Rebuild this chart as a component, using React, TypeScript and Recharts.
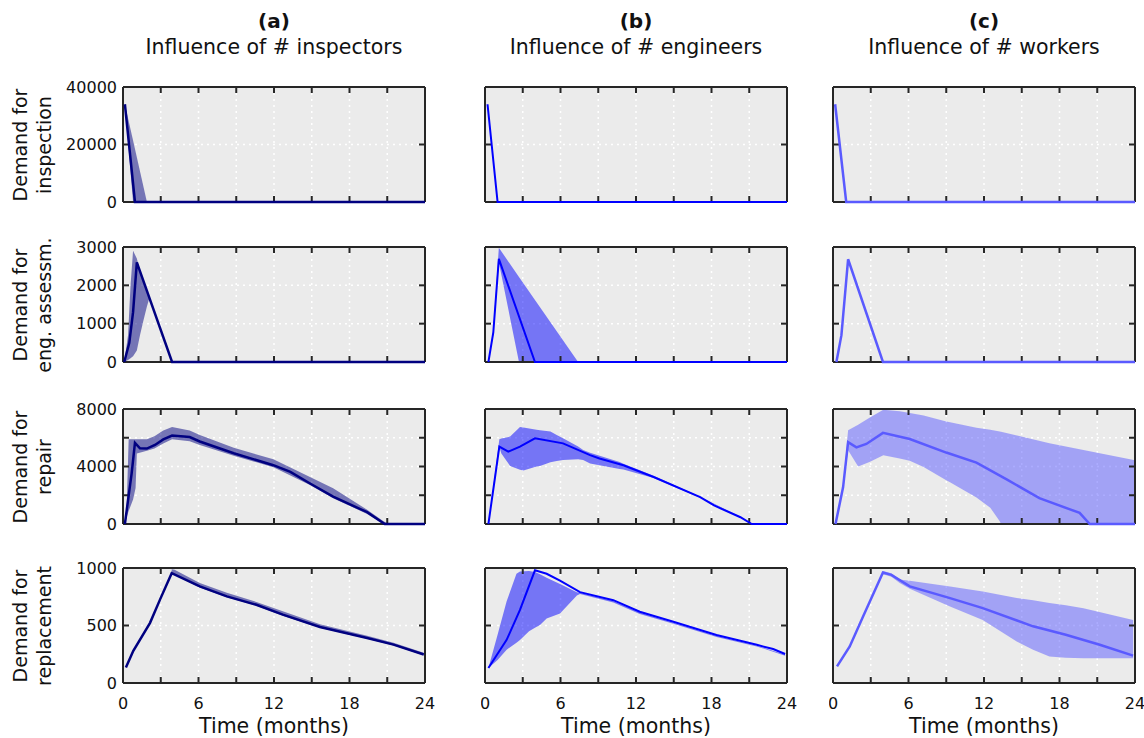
import { Area, CartesianGrid, ComposedChart, Line, XAxis, YAxis } from "recharts";

// time axis (months)
const monthTicks = [0, 3, 6, 9, 12, 15, 18, 21, 24];
const monthLabels = [0, 6, 12, 18, 24];

// y ticks per row
const inspTicks = [0, 20000, 40000];
const engTicks = [0, 1000, 2000, 3000];
const repairTicks = [0, 2000, 4000, 6000, 8000];
const repairLabels = [0, 4000, 8000];
const replTicks = [0, 500, 1000];

const colTitles = ["(a)", "(b)", "(c)"];
const colSubtitles = ["Influence of # inspectors", "Influence of # engineers", "Influence of # workers"];
const rowLabels = [
  ["Demand for", "inspection"],
  ["Demand for", "eng. assessm."],
  ["Demand for", "repair"],
  ["Demand for", "replacement"],
];

// ---- row 1: inspection ----
const inspA_t = [0.15, 0.95, 24];
const inspA_v = [34000, 0, 0];
const inspA_bt = [0.15, 0.8, 1.9];
const inspA_lo = [34000, 0, 0];
const inspA_hi = [34000, 21400, 0];

const inspB_t = [0.2, 1.0, 24];
const inspB_v = [34000, 0, 0];

const inspC_t = [0.17, 1.05, 24];
const inspC_v = [34000, 0, 0];

// ---- row 2: engineering assessment ----
const engA_t = [0.1, 0.5, 0.8, 1.1, 3.9, 24];
const engA_v = [0, 500, 1300, 2600, 0, 0];
const engA_bt = [0.1, 0.4, 0.6, 0.8, 1.1, 1.35, 1.6, 1.9, 2.1, 3.9];
const engA_lo = [0, 50, 100, 150, 300, 700, 1050, 1450, 1670, 0];
const engA_hi = [0, 700, 2000, 2900, 2700, 2370, 2130, 1850, 1670, 0];

const engB_t = [0.27, 0.66, 1.1, 3.97, 24];
const engB_v = [0, 770, 2690, 0, 0];
const engB_bt = [0.27, 0.66, 1.1, 2.7, 7.4];
const engB_lo = [0, 700, 2600, 0, 0];
const engB_hi = [0, 850, 2980, 2220, 0];

const engC_t = [0.27, 0.67, 1.2, 3.97, 24];
const engC_v = [0, 700, 2680, 0, 0];

// ---- row 3: repair ----
const repA_t = [0.15, 0.4, 0.69, 0.95, 1.35, 1.9, 2.54, 3.2, 3.9, 5.3, 6.1, 8.8, 11.95, 13.3, 14.9, 16.7, 19.4, 20.8, 24];
const repA_v = [0, 1640, 3540, 5650, 5270, 5250, 5500, 5880, 6150, 6050, 5740, 4920, 4090, 3620, 2800, 1900, 820, 0, 0];
const repA_bt = [0.15, 0.3, 0.45, 0.8, 1.0, 1.1, 1.9, 2.5, 3.2, 3.9, 5.3, 6.1, 8.8, 11.95, 14.9, 16.7, 19.4, 20.7, 21.1];
const repA_lo = [0, 500, 900, 1700, 2500, 4900, 5100, 5250, 5600, 5900, 5750, 5500, 4750, 3950, 2700, 1800, 700, 0, 0];
const repA_hi = [0, 1500, 5900, 5900, 5900, 5900, 5900, 6100, 6500, 6750, 6500, 6200, 5300, 4500, 3250, 2480, 1000, 200, 0];

const repB_t = [0.27, 0.8, 1.14, 1.85, 2.78, 3.97, 6.2, 8.35, 9.1, 11, 13.4, 17.1, 18.2, 20.3, 21.2, 24];
const repB_v = [0, 3270, 5380, 5030, 5380, 5960, 5610, 4790, 4560, 4090, 3270, 1870, 1290, 470, 0, 0];
const repB_bt = [0.27, 1.14, 1.3, 2.0, 2.78, 3.05, 4.1, 4.37, 5.2, 5.7, 6.2, 7.4, 7.8, 8.35, 10.7, 11, 13.4, 17.1, 20.3, 21.2];
const repB_lo = [0, 5380, 4900, 4030, 3780, 3720, 4000, 4030, 4300, 4380, 4450, 4500, 4450, 4210, 3830, 3790, 3200, 1820, 440, 0];
const repB_hi = [0, 5900, 5950, 6080, 6740, 6720, 6550, 6520, 6430, 6200, 5960, 5400, 5140, 4950, 4320, 4200, 3350, 1900, 500, 0];

const repC_t = [0.2, 0.8, 1.2, 1.86, 2.65, 3.97, 6.1, 9.0, 11.4, 13.8, 16.4, 19.6, 20.4, 24];
const repC_v = [0, 2550, 5690, 5330, 5570, 6340, 5910, 4970, 4270, 3100, 1800, 770, 0, 0];
const repC_bt = [0.2, 0.8, 1.2, 2.0, 2.9, 4.0, 5.3, 6.1, 7.2, 9.0, 9.3, 11.4, 12.5, 13.25, 13.35, 17.2, 19.9, 24];
const repC_lo = [0, 2500, 5130, 4000, 4310, 4790, 4550, 4400, 3960, 3050, 2900, 1840, 1130, 200, 0, 0, 0, 0];
const repC_hi = [0, 2600, 6520, 6900, 7390, 7950, 7850, 7720, 7550, 7130, 7080, 6700, 6550, 6430, 6420, 5610, 5140, 4440];

// ---- row 4: replacement ----
const rplA_t = [0.23, 0.82, 2.15, 2.94, 3.87, 6.1, 8.25, 10.6, 12.7, 15.65, 19.4, 21.5, 23.9];
const rplA_v = [135, 280, 523, 725, 955, 840, 753, 680, 594, 487, 392, 334, 248];
const rplA_bt = [3.87, 4.1, 6.1, 8.25, 10.6, 12.7, 15.65, 19.4, 21.5, 23.9];
const rplA_lo = [950, 940, 830, 745, 672, 585, 480, 385, 326, 242];
const rplA_hi = [990, 985, 870, 785, 705, 625, 510, 410, 350, 262];

const rplB_t = [0.27, 1.72, 2.78, 3.97, 4.9, 5.96, 7.55, 10.2, 12.3, 14.97, 18.4, 21.6, 22.9, 23.85];
const rplB_v = [130, 375, 635, 980, 950, 890, 790, 720, 620, 533, 418, 332, 295, 252];
const rplB_bt = [0.27, 1.0, 1.72, 2.5, 2.78, 3.5, 3.97, 4.37, 4.9, 5.96, 7.3, 7.55, 10.2, 12.3, 14.97, 18.4, 21.6, 23.85];
const rplB_lo = [130, 200, 290, 350, 375, 450, 480, 505, 560, 605, 760, 775, 700, 600, 515, 400, 318, 238];
const rplB_hi = [130, 420, 710, 950, 970, 975, 965, 945, 915, 860, 790, 785, 712, 612, 525, 410, 325, 245];

const rplC_t = [0.32, 1.33, 2.39, 3.97, 4.64, 6.1, 9.3, 11.9, 15.9, 18.5, 21.2, 23.85];
const rplC_v = [145, 318, 578, 960, 940, 840, 738, 651, 493, 420, 333, 238];
const rplC_bt = [3.97, 4.64, 5.3, 6.1, 9.3, 11.9, 14.6, 15.9, 17.2, 18.5, 19.9, 23.85];
const rplC_lo = [945, 925, 870, 820, 665, 548, 360, 290, 230, 220, 215, 215];
const rplC_hi = [975, 955, 900, 890, 840, 795, 740, 720, 695, 677, 650, 547];

const lineRows = (t: number[], v: number[]) => t.map((x, i) => ({ t: x, v: v[i] }));
const bandRows = (t: number[], lo: number[], hi: number[]) => t.map((x, i) => ({ t: x, range: [lo[i], hi[i]] }));

type Cell = { line: { t: number; v: number }[]; band?: { t: number; range: number[] }[] };

const cells: Cell[][] = [
  [
    { line: lineRows(inspA_t, inspA_v), band: bandRows(inspA_bt, inspA_lo, inspA_hi) },
    { line: lineRows(inspB_t, inspB_v) },
    { line: lineRows(inspC_t, inspC_v) },
  ],
  [
    { line: lineRows(engA_t, engA_v), band: bandRows(engA_bt, engA_lo, engA_hi) },
    { line: lineRows(engB_t, engB_v), band: bandRows(engB_bt, engB_lo, engB_hi) },
    { line: lineRows(engC_t, engC_v) },
  ],
  [
    { line: lineRows(repA_t, repA_v), band: bandRows(repA_bt, repA_lo, repA_hi) },
    { line: lineRows(repB_t, repB_v), band: bandRows(repB_bt, repB_lo, repB_hi) },
    { line: lineRows(repC_t, repC_v), band: bandRows(repC_bt, repC_lo, repC_hi) },
  ],
  [
    { line: lineRows(rplA_t, rplA_v), band: bandRows(rplA_bt, rplA_lo, rplA_hi) },
    { line: lineRows(rplB_t, rplB_v), band: bandRows(rplB_bt, rplB_lo, rplB_hi) },
    { line: lineRows(rplC_t, rplC_v), band: bandRows(rplC_bt, rplC_lo, rplC_hi) },
  ],
];

const rowTicks = [inspTicks, engTicks, repairTicks, replTicks];
const rowMax = [40000, 3000, 8000, 1000];
const rowShown = [inspTicks, engTicks, repairLabels, replTicks];

const colColor = ["#000080", "#0000ff", "#5a5aff"];
const colWidth = [2.5, 2, 2.5];

// layout
const colLeft = [123, 485, 833];
const rowTop = [87, 247, 409, 568];
const plotW = 302;
const plotH = 115;
const padT = 12;
const padR = 16;
const font = "'DejaVu Sans', Verdana, sans-serif";
const frame = { stroke: "#262626", strokeWidth: 2 };
const tickStyle = { stroke: "#262626", strokeWidth: 2 };

function Panel({ row, col }: { row: number; col: number }) {
  const cell = cells[row][col];
  const leftPad = col === 0 ? 80 : 4;
  const bottomPad = row === 3 ? 40 : 14;
  const color = colColor[col];
  return (
    <div style={{ position: "absolute", left: colLeft[col] - leftPad, top: rowTop[row] - padT - 1 }}>
      <ComposedChart
        width={leftPad + plotW + padR + 1}
        height={padT + 1 + plotH + bottomPad}
        margin={{ top: padT, right: padR, bottom: 0, left: 0 }}
      >
        <CartesianGrid xAxisId="b" yAxisId="l" fill="#ebebeb" stroke="#ffffff" strokeDasharray="2 4" strokeWidth={1.5} />
        <XAxis
          xAxisId="b"
          type="number"
          dataKey="t"
          domain={[0, 24]}
          ticks={monthTicks}
          interval={0}
          height={bottomPad}
          tickSize={-6}
          tickMargin={21}
          tickFormatter={(v: number) => (row === 3 && monthLabels.includes(v) ? String(v) : "")}
          tick={{ fontSize: 16, fill: "#111", fontFamily: font }}
          axisLine={frame}
          tickLine={tickStyle}
        />
        <XAxis
          xAxisId="t"
          orientation="top"
          type="number"
          dataKey="t"
          domain={[0, 24]}
          allowDataOverflow
          ticks={monthTicks}
          interval={0}
          height={1}
          tickSize={-6}
          tickFormatter={() => ""}
          axisLine={frame}
          tickLine={tickStyle}
        />
        <YAxis
          yAxisId="l"
          type="number"
          domain={[0, rowMax[row]]}
          ticks={rowTicks[row]}
          interval={0}
          width={leftPad}
          tickSize={-6}
          tickMargin={12}
          tickFormatter={(v: number) => (col === 0 && rowShown[row].includes(v) ? String(v) : "")}
          tick={{ fontSize: 16, fill: "#111", fontFamily: font }}
          axisLine={frame}
          tickLine={tickStyle}
        />
        <YAxis
          yAxisId="r"
          orientation="right"
          type="number"
          domain={[0, rowMax[row]]}
          allowDataOverflow
          ticks={rowTicks[row]}
          interval={0}
          width={1}
          tickSize={-6}
          tickFormatter={() => ""}
          axisLine={frame}
          tickLine={tickStyle}
        />
        {cell.band && (
          <Area
            xAxisId="b"
            yAxisId="l"
            data={cell.band}
            dataKey="range"
            type="linear"
            stroke="none"
            fill={color}
            fillOpacity={0.5}
            dot={false}
            activeDot={false}
            isAnimationActive={false}
          />
        )}
        <Line
          xAxisId="b"
          yAxisId="l"
          data={cell.line}
          dataKey="v"
          type="linear"
          stroke={color}
          strokeWidth={colWidth[col]}
          dot={false}
          activeDot={false}
          zIndex={900}
          isAnimationActive={false}
        />
      </ComposedChart>
    </div>
  );
}

export default function App() {
  return (
    <div
      style={{
        position: "absolute",
        left: 0,
        top: 0,
        width: 1144,
        height: 738,
        background: "#fff",
        fontFamily: font,
        color: "#111",
      }}
    >
      {colTitles.map((t, c) => (
        <div
          key={t}
          style={{ position: "absolute", left: colLeft[c] + plotW / 2 - 200, width: 400, top: 8, textAlign: "center" }}
        >
          <div style={{ fontWeight: "bold", fontSize: 20, lineHeight: "26px" }}>{t}</div>
          <div style={{ fontSize: 20.5, lineHeight: "26px" }}>{colSubtitles[c]}</div>
        </div>
      ))}
      {rowLabels.map((lines, r) => (
        <div
          key={r}
          style={{
            position: "absolute",
            left: 32,
            top: rowTop[r] + plotH / 2,
            width: 200,
            transform: "translate(-50%, -50%) rotate(-90deg)",
            textAlign: "center",
            fontSize: 19,
            lineHeight: "24px",
          }}
        >
          {lines.map((l) => (
            <div key={l}>{l}</div>
          ))}
        </div>
      ))}
      {[0, 1, 2, 3].map((r) => [0, 1, 2].map((c) => <Panel key={`${r}-${c}`} row={r} col={c} />))}
      {colLeft.map((x, c) => (
        <div
          key={c}
          style={{ position: "absolute", left: x + plotW / 2 - 150, width: 300, top: 714, textAlign: "center", fontSize: 20.5 }}
        >
          Time (months)
        </div>
      ))}
    </div>
  );
}
